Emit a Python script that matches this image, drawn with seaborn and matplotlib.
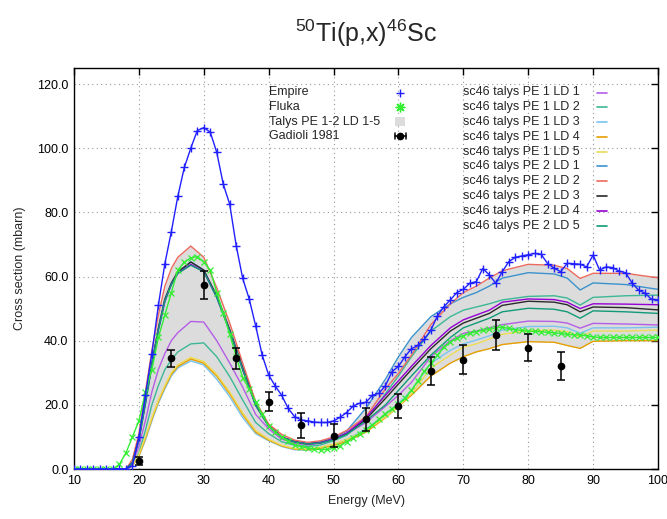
import numpy as np
import pandas as pd
import matplotlib
matplotlib.use("Agg")
import matplotlib.pyplot as plt
import seaborn as sns
from matplotlib.lines import Line2D
from matplotlib.patches import Rectangle

# ---------------- data ----------------
energy_empire = list(range(10, 101))
xs_empire = [0, 0, 0, 0, 0, 0, 0, 0, 0,
             1, 10, 23, 36, 51, 64, 74, 85, 94, 100,
             105.5, 106.4, 105, 98.7, 88.8, 82.5, 69.6, 59.4, 53, 44.6,
             35.5, 29.3, 25.9, 23, 18.9, 16.3, 15.3, 15, 14.6, 14.5,
             14.5, 15, 16.1, 17.6, 19.6, 20.5, 20.8, 23, 23.6, 26,
             30.3, 32, 35, 37.5, 38.5, 40.5, 43.3, 47.7, 50.6, 52.7,
             55, 56, 57.9, 58.4, 62.5, 60.5, 57.9, 61.5, 64.6, 66,
             66.4, 66.8, 67.2, 66.9, 64, 62.6, 61.5, 64.1, 64, 63.8,
             63, 66.7, 62, 63, 62.8, 61.7, 61.2, 58, 55.8, 54.8,
             52.9, 52.7]

energy_fluka = list(range(10, 101))
xs_fluka = [0, 0, 0, 0, 0, 0, 0,
            1.5, 5, 10, 15, 24, 31, 41, 48, 55, 62, 64.5, 65.8,
            66.2, 64.5, 62, 55, 48.5, 42, 35, 28.5, 25, 21,
            17, 13.5, 11.5, 10, 8.6, 7.5, 7, 6.5, 6.2, 6,
            6.1, 6.4, 7.3, 8.5, 9.8, 11, 12.3, 13.7, 15.5, 17.3,
            18.8, 20.2, 22, 24.5, 27.5, 30.5, 33, 35.5, 38, 39.6,
            40.7, 41.6, 42.3, 42.8, 43.2, 43.5, 44, 44.2, 43.8, 43.4,
            43.2, 43, 42.9, 42.8, 42.6, 42.4, 42.3, 42, 41.8, 41.8,
            41.5, 41.2, 41, 41, 41, 41, 41, 41, 41, 41, 41, 41]

energy_talys = [10, 18, 19, 20, 21, 22, 23, 24, 25, 26, 28, 30, 32, 34, 36, 38, 40, 42, 44, 46,
                48, 50, 52, 55, 58, 60, 62, 65, 68, 70, 72, 74, 76, 80, 84, 86, 88, 90, 95, 100]

talys_pe1_ld1 = [0, 0, 1.5, 7, 15, 24, 31, 36, 40, 42.5, 46, 45.8, 40, 33, 25.5, 17, 12.5, 9.3, 8, 7.5,
                 8, 9.2, 10.8, 14.5, 19.5, 23, 27, 35, 40, 42.3, 43, 44, 45, 46.1, 46, 45.5, 43.9, 45.4, 45.2, 44.9]
talys_pe1_ld2 = [0, 0, 1, 5, 12, 20, 26, 31, 34, 36.5, 39, 39.3, 35, 28.8, 21.5, 14.5, 11, 8.5, 7.4, 7,
                 7.5, 8.8, 10.5, 15.5, 23.5, 29, 35, 43, 47.5, 49.5, 50.5, 51.5, 52.7, 53.8, 54, 53.3, 51.1, 53.5, 54, 54.2]
talys_pe1_ld3 = [0, 0, 1, 4, 9, 15, 20.5, 25, 29, 31.5, 33.7, 32.4, 28, 22.5, 16, 11, 8.8, 7, 6, 5.9,
                 6.5, 7.6, 9.2, 12.5, 17, 20.5, 24.5, 33, 37, 39, 40.2, 41.5, 43.3, 44.4, 44.5, 44, 42.3, 44, 44, 44.2]
talys_pe1_ld4 = [0, 0, 1, 4, 9.5, 15.5, 21, 25.5, 29.5, 32, 34.3, 33, 29, 23.5, 17, 11.5, 9, 7.2, 6.2, 6,
                 6.5, 7.3, 8.6, 11.5, 16, 19.5, 23, 29, 33, 35, 36.5, 37.5, 38.8, 39.7, 39.5, 38.5, 37.6, 39.8, 40, 40]
talys_pe1_ld5 = [0, 0, 1, 4.5, 10, 16, 21.5, 26, 30, 32.5, 34.8, 33.5, 29.5, 24, 17.5, 12, 9.3, 7.4, 6.4, 6.2,
                 6.8, 7.8, 9.2, 12, 16.2, 19.5, 23.5, 31.5, 35.5, 38, 39, 40.5, 42, 43.1, 43.3, 42.8, 41.2, 43, 43, 43.3]
talys_pe2_ld1 = [0, 0, 2, 9, 20, 32, 43, 52, 57.5, 61, 64.6, 62, 53.5, 43, 31, 20, 13.5, 10, 8.6, 8,
                 8.5, 9.8, 11.8, 19, 28, 35, 41, 47.5, 51.5, 53.5, 55, 57, 59.5, 61.2, 60.8, 59.5, 55.8, 58, 57.5, 56]
talys_pe2_ld2 = [0, 0, 3, 11, 24, 37, 48, 57, 62.5, 66, 69.5, 66, 56.5, 45.5, 33, 21, 14, 10.8, 9, 8.3,
                 8.8, 10, 12, 16.3, 25, 29.8, 35.5, 45, 51.5, 55, 57, 59.5, 61.8, 63.8, 63.5, 62.5, 59.4, 61, 61, 59.6]
talys_pe2_ld3 = [0, 0, 2, 9.5, 21, 33, 44, 53, 58, 61.5, 64.5, 62, 54, 43.5, 31.5, 20, 13.5, 10, 8.5, 7.8,
                 8.2, 9.3, 11, 15.5, 22, 26.5, 31, 37.5, 43, 45.5, 47, 48.5, 51, 52.3, 52, 51.2, 49, 50.5, 50.3, 49.6]
talys_pe2_ld4 = [0, 0, 2, 9, 20.5, 32.5, 43.5, 52.5, 57.5, 61, 63.8, 61.5, 53.5, 43, 31, 19.8, 13.3, 9.9, 8.4, 7.8,
                 8.2, 9.4, 11.2, 16, 23, 27.5, 32, 38.5, 44, 46.5, 48, 49.5, 52, 53, 52.8, 52, 50, 51.5, 51.4, 51.2]
talys_pe2_ld5 = [0, 0, 2, 9, 20.5, 32.5, 43.5, 52.5, 57.5, 61, 63.5, 61.5, 53.5, 43, 31, 19.8, 13.3, 9.9, 8.4, 7.8,
                 8.1, 9.1, 10.8, 15, 20, 24.5, 29, 35.5, 41, 44, 45.5, 47, 49, 50.1, 49.8, 49, 47, 49.3, 49, 48.5]

talys_labels = ["sc46 talys PE 1 LD 1", "sc46 talys PE 1 LD 2", "sc46 talys PE 1 LD 3",
                "sc46 talys PE 1 LD 4", "sc46 talys PE 1 LD 5", "sc46 talys PE 2 LD 1",
                "sc46 talys PE 2 LD 2", "sc46 talys PE 2 LD 3", "sc46 talys PE 2 LD 4",
                "sc46 talys PE 2 LD 5"]
talys_series = [talys_pe1_ld1, talys_pe1_ld2, talys_pe1_ld3, talys_pe1_ld4, talys_pe1_ld5,
                talys_pe2_ld1, talys_pe2_ld2, talys_pe2_ld3, talys_pe2_ld4, talys_pe2_ld5]

energy_gadioli = [20, 25, 30, 35, 40, 45, 50, 55, 60, 65, 70, 75, 80, 85]
xs_gadioli = [2.5, 34.5, 57.4, 34.5, 21, 13.7, 10.4, 15.5, 19.6, 30.5, 34, 41.8, 37.8, 32.2]
err_gadioli = [1.2, 2.7, 4.3, 3.3, 2.9, 3.9, 3.6, 3.6, 3.8, 4.4, 4.5, 4.6, 4.2, 4.4]

legend_left_labels = ["Empire", "Fluka", "Talys PE 1-2 LD 1-5", "Gadioli 1981"]
x_ticks = [10, 20, 30, 40, 50, 60, 70, 80, 90, 100]
y_ticks = [0, 20, 40, 60, 80, 100, 120]

# ---------------- style ----------------
sns.set_style("white")
plt.rcParams["font.family"] = ["Liberation Sans", "DejaVu Sans"]
plt.rcParams["mathtext.fontset"] = "custom"
plt.rcParams["mathtext.rm"] = "Liberation Sans"
plt.rcParams["mathtext.it"] = "Liberation Sans"

talys_colors = ["#b45ee6", "#3cb896", "#7cc4ee", "#e69f00", "#eedd55",
                "#3c92cc", "#ee6a5e", "#2a2a2a", "#9400d3", "#109a78"]
empire_color = "#2020ff"
fluka_color = "#33ee33"
band_color = "#dcdcdc"

W, H = 667, 519
fig = plt.figure(figsize=(W / 100, H / 100), dpi=100)
ax = fig.add_axes([74 / W, 1 - 469 / H, (658 - 74) / W, (469 - 68) / H])

# talys band
arr = np.array(talys_series)
ax.fill_between(energy_talys, arr.min(axis=0), arr.max(axis=0), color=band_color, lw=0, zorder=1)

df = pd.DataFrame({
    "energy": np.tile(energy_talys, len(talys_labels)),
    "xs": np.concatenate(talys_series),
    "model": np.repeat(talys_labels, len(energy_talys)),
})
sns.lineplot(data=df, x="energy", y="xs", hue="model", hue_order=talys_labels,
             palette=dict(zip(talys_labels, talys_colors)), estimator=None, sort=False,
             linewidth=1.0, legend=False, ax=ax, zorder=2)

sns.lineplot(x=energy_empire, y=xs_empire, color=empire_color, linewidth=1.0, marker="+",
             markersize=5.5, markeredgewidth=1.0, markeredgecolor=empire_color, ax=ax, zorder=4)
sns.lineplot(x=energy_fluka, y=xs_fluka, color=fluka_color, linewidth=1.0, marker="x",
             markersize=4.5, markeredgewidth=0.9, markeredgecolor=fluka_color, ax=ax, zorder=3)
ax.errorbar(energy_gadioli, xs_gadioli, yerr=err_gadioli, fmt="o", color="black",
            markersize=4.5, elinewidth=1.1, capsize=3, capthick=1.1, zorder=5)

ax.set_xlim(10, 100)
ax.set_ylim(0, 125)
ax.set_xticks(x_ticks)
ax.set_xticklabels([str(t) for t in x_ticks])
ax.set_yticks(y_ticks)
ax.set_yticklabels([f"{t:.1f}" for t in y_ticks])
ax.tick_params(direction="in", top=True, right=True, length=5, width=1, labelsize=9,
               colors="black", pad=4)
ax.grid(True, linestyle=(0, (1, 3)), color="#999999", linewidth=0.8)
for s in ax.spines.values():
    s.set_color("black")
    s.set_linewidth(1.0)

ax.set_xlabel("Energy (MeV)", fontsize=9, labelpad=6)
ax.set_ylabel("Cross section (mbarn)", fontsize=9, labelpad=8)
fig.text(366 / W, 1 - 33 / H, r"$^{50}$Ti(p,x)$^{46}$Sc", ha="center", va="center", fontsize=18)

# ---------------- manual legends (left-aligned text, symbol on the right) ----------------
def fx(px):
    return px / W

def fy(py):
    return 1 - py / H

left_rows = [92.5, 107, 121.5, 136]
for lab, yy in zip(legend_left_labels, left_rows):
    fig.text(fx(269), fy(yy), lab, ha="left", va="center", fontsize=9)
fig.add_artist(Line2D([fx(400)], [fy(left_rows[0])], transform=fig.transFigure, color=empire_color,
                      marker="+", ls="none", markersize=6, mew=1.0))
fig.add_artist(Line2D([fx(400)], [fy(left_rows[1])], transform=fig.transFigure, color=fluka_color,
                      marker=(8, 2, 0), ls="none", markersize=7, mew=1.0))
fig.add_artist(Rectangle((fx(395), fy(left_rows[2] + 4.5)), 10 / W, 9 / H, transform=fig.transFigure,
                         facecolor=band_color, edgecolor="none"))
fig.add_artist(Line2D([fx(395), fx(406)], [fy(left_rows[3])] * 2, transform=fig.transFigure,
                      color="black", lw=1.1))
fig.add_artist(Line2D([fx(400)], [fy(left_rows[3])], transform=fig.transFigure, color="black",
                      marker="o", ls="none", markersize=4.5))
for xe in (395, 406):
    fig.add_artist(Line2D([fx(xe)] * 2, [fy(left_rows[3] - 3), fy(left_rows[3] + 3)],
                          transform=fig.transFigure, color="black", lw=1.1))

for i, (lab, col) in enumerate(zip(talys_labels, talys_colors)):
    yy = 92.5 + i * 14.8
    fig.text(fx(463), fy(yy), lab, ha="left", va="center", fontsize=9)
    fig.add_artist(Line2D([fx(597), fx(607)], [fy(yy)] * 2, transform=fig.transFigure,
                          color=col, lw=1.2))

fig.savefig("out.png", dpi=100)
